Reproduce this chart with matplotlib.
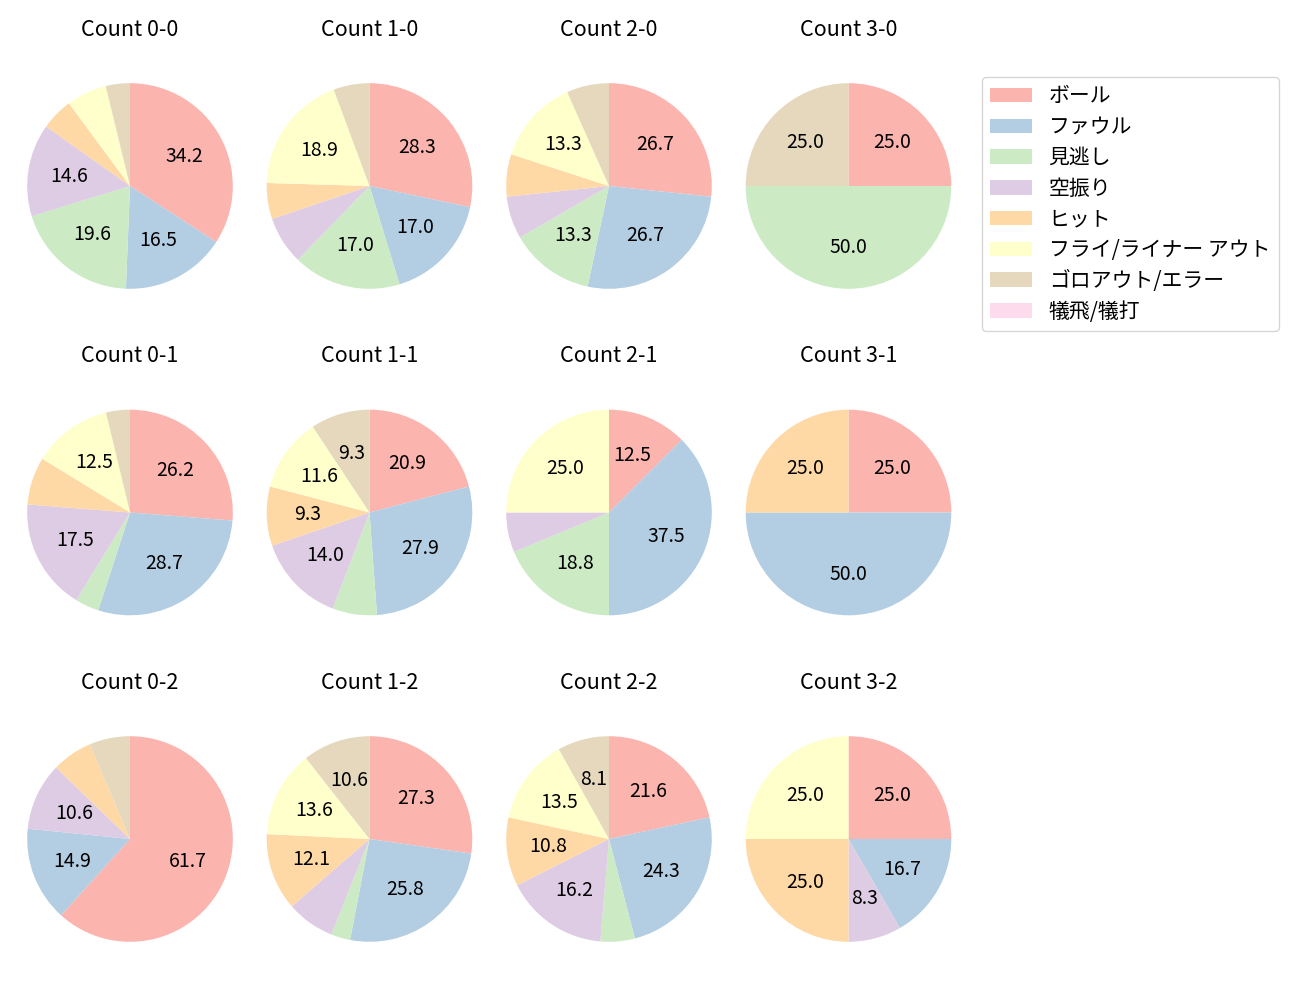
import numpy as np
import matplotlib
matplotlib.use("Agg")
import matplotlib.pyplot as plt
from matplotlib.patches import Patch

plt.rcParams['font.family'] = ['Noto Sans CJK JP', 'DejaVu Sans']

categories = ['ボール', 'ファウル', '見逃し', '空振り', 'ヒット',
              'フライ/ライナー アウト', 'ゴロアウト/エラー', '犠飛/犠打']

# counts per pitch count situation (order follows categories)
counts = {
    '0-0': [54, 26, 31, 23, 8, 10, 6, 0],
    '1-0': [15, 9, 9, 4, 3, 10, 3, 0],
    '2-0': [4, 4, 2, 1, 1, 2, 1, 0],
    '3-0': [1, 0, 2, 0, 0, 0, 1, 0],
    '0-1': [21, 23, 3, 14, 6, 10, 3, 0],
    '1-1': [9, 12, 3, 6, 4, 5, 4, 0],
    '2-1': [2, 6, 3, 1, 0, 4, 0, 0],
    '3-1': [1, 2, 0, 0, 1, 0, 0, 0],
    '0-2': [29, 7, 0, 5, 3, 0, 3, 0],
    '1-2': [18, 17, 2, 5, 8, 9, 7, 0],
    '2-2': [8, 9, 2, 6, 4, 5, 3, 0],
    '3-2': [3, 2, 0, 1, 3, 3, 0, 0],
}

colors = plt.cm.Pastel1.colors[:len(categories)]

fig = plt.figure(figsize=(13, 10), dpi=100)

W, H = 1300, 1000
size = 257
xc = [130, 369.5, 609, 848.5]
yc = [186, 512.5, 839]

def make_autopct(total):
    # recompute the share in float64 from the count (pie works in float32)
    def f(p):
        n = round(p * total / 100)
        v = n / total * 100
        return f'{v:.1f}' if v >= 8 else ''
    return f

for i, ball in enumerate(range(3)):
    for j in range(4):
        key = f'{j}-{ball}'
        vals = np.array(counts[key], dtype=float)
        ax = fig.add_axes([(xc[j] - size / 2) / W, 1 - (yc[i] + size / 2) / H,
                           size / W, size / H])
        mask = vals > 0
        ax.pie(vals[mask], colors=[c for c, m in zip(colors, mask) if m],
               startangle=90, counterclock=False,
               autopct=make_autopct(int(vals.sum())),
               textprops={'fontsize': 14})
        ax.set_title(f'Count {key}', fontsize=15.5, pad=15.5)

handles = [Patch(facecolor=c, label=l) for c, l in zip(colors, categories)]
fig.legend(handles=handles, loc='upper left', bbox_to_anchor=(982 / W, 1 - 77 / H),
           fontsize=15, labelspacing=0.42, borderaxespad=0)

fig.savefig('out.png', dpi=100)
